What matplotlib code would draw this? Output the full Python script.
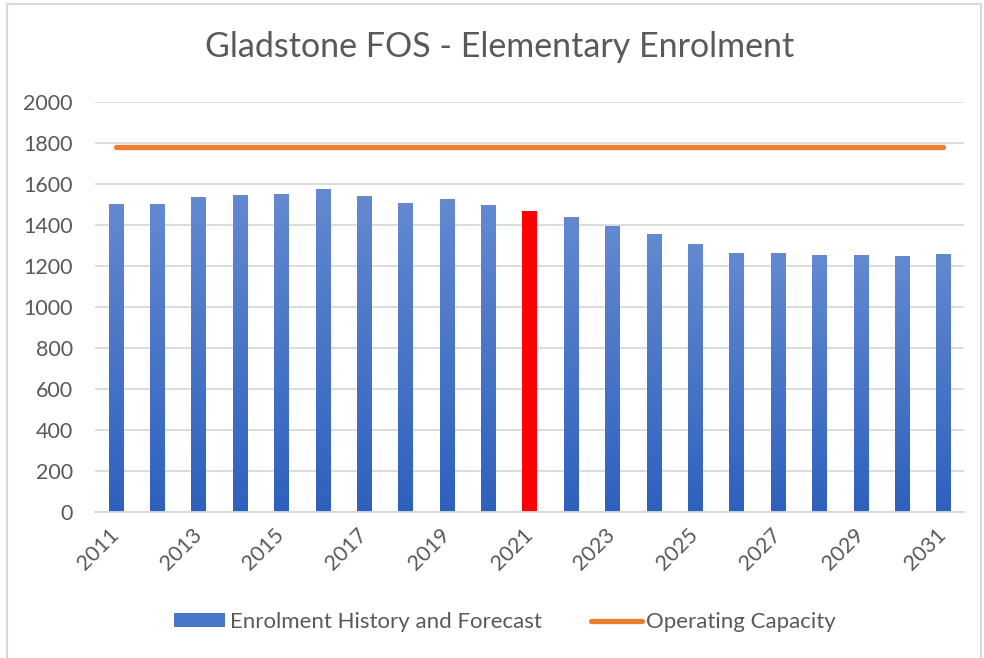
"""Gladstone FOS elementary enrolment chart"""

import matplotlib
matplotlib.use('agg')
import matplotlib.pyplot as plt
import numpy as np
from matplotlib.colors import LinearSegmentedColormap
from matplotlib.lines import Line2D
from matplotlib.patches import Patch, Rectangle

years = list(range(2011, 2032))
enrolment = [1498, 1498, 1532, 1546, 1551, 1571, 1537, 1507, 1522, 1493, 1468,
             1439, 1395, 1356, 1307, 1263, 1263, 1249, 1249, 1244, 1254]
capacity = [1780] * len(years)
highlight_year = 2021

TEXT = "#595959"
GRID = "#D9D9D9"
BAR_TOP = "#6389d0"
BAR_BOTTOM = "#2e61be"
ORANGE = "#ED7D31"

plt.rcParams['font.family'] = ['Lato', 'DejaVu Sans']


def main():
    """Main function"""
    fig = plt.figure(figsize=(9.84, 6.58), dpi=100)
    ax = fig.add_axes([95 / 984, 1 - 512 / 658, (964 - 95) / 984, 410 / 658])

    cmap = LinearSegmentedColormap.from_list("bar", [BAR_BOTTOM, BAR_TOP])
    grad = np.linspace(0, 1, 256).reshape(-1, 1)
    x = np.arange(len(years))
    width = 0.34
    for xi, yr, val in zip(x, years, enrolment):
        if yr == highlight_year:
            ax.bar(xi, val, width=width, color="#FF0000", zorder=2)
        else:
            ax.imshow(grad, extent=[xi - width / 2, xi + width / 2, 0, val],
                      origin="lower", aspect="auto", cmap=cmap, zorder=2)

    ax.plot(x, capacity, color=ORANGE, lw=3.8, solid_capstyle="round", zorder=3)

    ax.set_xlim(-0.5, len(years) - 0.5)
    ax.set_ylim(0, 2000)
    ax.set_yticks(np.arange(0, 2001, 200))
    ax.yaxis.grid(True, color=GRID, lw=1.3, zorder=0)
    ax.set_axisbelow(True)
    ax.set_xticks(x[::2])
    ax.set_xticklabels([str(y) for y in years[::2]], rotation=45,
                       ha="right", va="center", rotation_mode="anchor")
    ax.tick_params(axis="both", length=0, labelsize=15.5, colors=TEXT)
    ax.tick_params(axis="y", pad=16)
    ax.tick_params(axis="x", pad=14)
    for s in ["top", "right", "left"]:
        ax.spines[s].set_visible(False)
    ax.spines["bottom"].set_color(GRID)
    ax.spines["bottom"].set_linewidth(1.3)

    fig.text(500 / 984, 1 - 47 / 658, "Gladstone FOS - Elementary Enrolment",
             ha="center", va="center", fontsize=24.5, color=TEXT)

    handles = [Patch(facecolor="#4a76c8", edgecolor="none"),
               Line2D([0], [0], color=ORANGE, lw=3.8, solid_capstyle="round")]
    labels = ["Enrolment History and Forecast", "Operating Capacity"]
    fig.legend(handles, labels, loc="center",
               bbox_to_anchor=(505 / 984, 1 - 622 / 658),
               ncol=2, frameon=False, fontsize=16, labelcolor=TEXT,
               handlelength=2.3, handleheight=0.6, handletextpad=0.2,
               columnspacing=2.2)

    fig.patches.append(Rectangle((7 / 984, -0.05), (981 - 7) / 984, 1.05 - 4 / 658,
                                 transform=fig.transFigure, fill=False,
                                 edgecolor="#D9D9D9", lw=1.5))
    fig.savefig("out.png", dpi=100)


if __name__ == "__main__":
    main()
